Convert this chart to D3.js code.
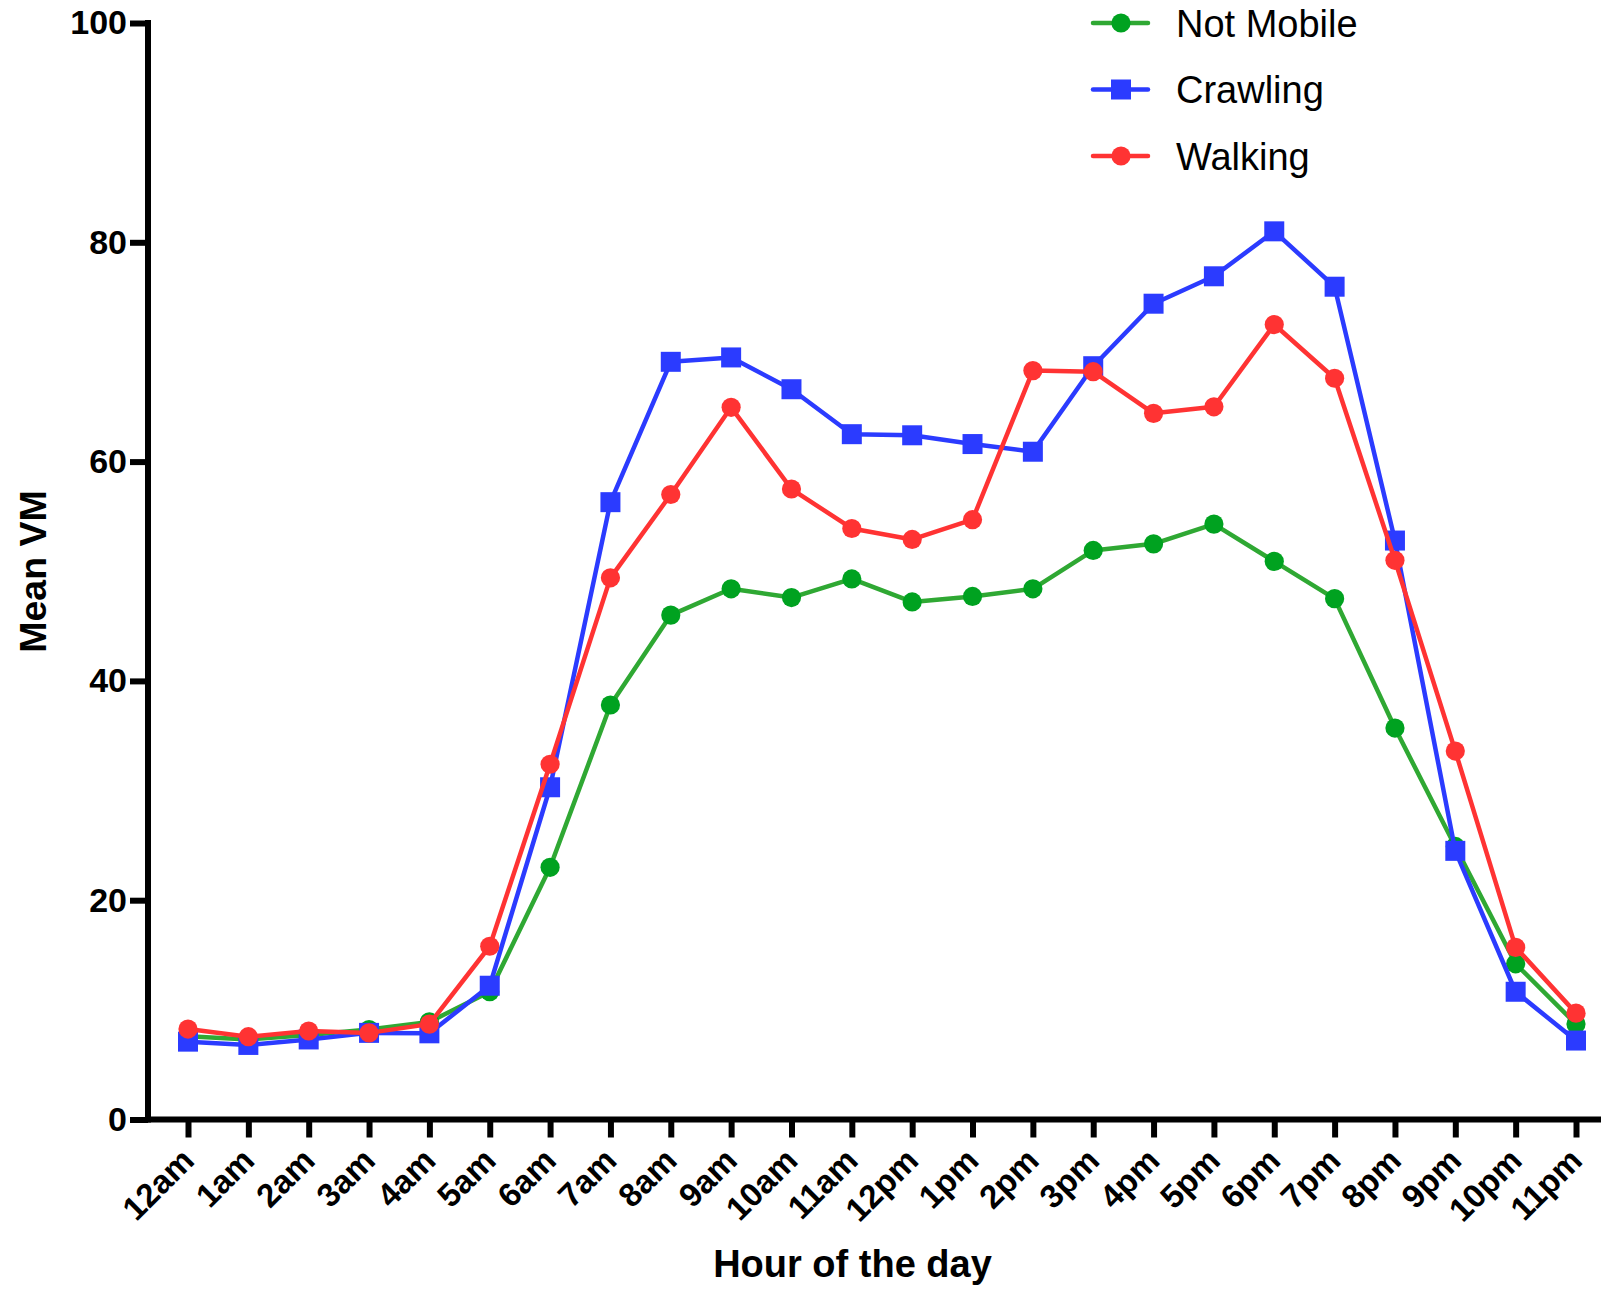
<!DOCTYPE html>
<html>
<head>
<meta charset="utf-8">
<script src="https://cdn.jsdelivr.net/npm/d3@7"></script>
<style>
  html, body { margin: 0; padding: 0; background: #fff; }
  svg { display: block; font-family: "Liberation Sans", Arial, Helvetica, sans-serif; }
</style>
</head>
<body>
<svg id="chart" width="1601" height="1290"></svg>
<script>
const hours = ["12am","1am","2am","3am","4am","5am","6am","7am","8am","9am","10am","11am",
               "12pm","1pm","2pm","3pm","4pm","5pm","6pm","7pm","8pm","9pm","10pm","11pm"];
const notMobile = [7.6, 7.3, 7.7, 8.2, 8.9, 11.65, 23.0, 37.8, 46.0, 48.4, 47.6, 49.3,
                   47.2, 47.7, 48.4, 51.9, 52.5, 54.3, 50.9, 47.5, 35.7, 24.9, 14.2, 8.7];
const crawling  = [7.1, 6.8, 7.3, 7.9, 7.86, 12.2, 30.3, 56.3, 69.1, 69.5, 66.6, 62.5,
                   62.4, 61.6, 60.9, 68.7, 74.4, 76.9, 81.0, 75.95, 52.8, 24.5, 11.65, 7.2];
const walking   = [8.25, 7.55, 8.07, 7.9, 8.7, 15.8, 32.4, 49.4, 57.0, 64.95, 57.5, 53.9,
                   52.9, 54.7, 68.3, 68.2, 64.4, 65.0, 72.5, 67.6, 51.0, 33.6, 15.7, 9.7];
const yTicks = [0, 20, 40, 60, 80, 100];
const seriesNames = ["Not Mobile", "Crawling", "Walking"];
const seriesValues = [notMobile, crawling, walking];
const seriesLine = ["#2fa833", "#2b3bff", "#ff3333"];
const seriesFill = ["#00a220", "#2b3bff", "#ff3333"];
const seriesShape = ["circle", "square", "circle"];

const svg = d3.select("#chart");
const axisX = 148;
const x = d3.scalePoint().domain(hours).range([188, 1576]).padding(0);
const y = d3.scaleLinear().domain([0, 100]).range([1119.5, 23]);

const symCircle = d3.symbol().type(d3.symbolCircle).size(Math.PI * 9.6 * 9.6);
const symSquare = d3.symbol().type(d3.symbolSquare).size(20 * 20);

// Axes
const yAxis = d3.axisLeft(y).tickValues(yTicks).tickSize(18).tickSizeOuter(0).tickPadding(3);
const gy = svg.append("g").attr("transform", `translate(${axisX},0)`).call(yAxis);
gy.select(".domain").remove();
gy.selectAll(".tick line").attr("stroke", "#000").attr("stroke-width", 6);
gy.selectAll(".tick text").attr("fill", "#000").attr("font-size", 34).attr("font-weight", "bold")
  .attr("font-family", "'Liberation Sans', Arial, sans-serif");

const xAxis = d3.axisBottom(x).tickSize(18).tickSizeOuter(0);
const gx = svg.append("g").attr("transform", `translate(0,${y(0)})`).call(xAxis);
gx.select(".domain").remove();
gx.selectAll(".tick line").attr("stroke", "#000").attr("stroke-width", 6);
gx.selectAll(".tick text")
  .attr("fill", "#000").attr("font-size", 33).attr("font-weight", "bold")
  .attr("font-family", "'Liberation Sans', Arial, sans-serif")
  .attr("text-anchor", "end")
  .attr("dy", null).attr("y", null)
  .attr("transform", "translate(7.5,43) rotate(-45)");

// axis lines
svg.append("line").attr("x1", axisX).attr("x2", axisX).attr("y1", y(100) - 3).attr("y2", y(0) + 3)
  .attr("stroke", "#000").attr("stroke-width", 6);
svg.append("line").attr("x1", axisX - 3).attr("x2", 1601).attr("y1", y(0)).attr("y2", y(0))
  .attr("stroke", "#000").attr("stroke-width", 6);

// Series
const line = d3.line().x((d, i) => x(hours[i])).y(d => y(d));
seriesValues.forEach((vals, s) => {
  const g = svg.append("g");
  g.append("path").datum(vals).attr("d", line).attr("fill", "none")
    .attr("stroke", seriesLine[s]).attr("stroke-width", 4.5).attr("stroke-linejoin", "round");
  g.selectAll("path.m").data(vals).enter().append("path").attr("class", "m")
    .attr("d", seriesShape[s] === "circle" ? symCircle : symSquare)
    .attr("transform", (d, i) => `translate(${x(hours[i])},${y(d)})`)
    .attr("fill", seriesFill[s]);
});

// Titles
svg.append("text").attr("transform", "translate(46,571.5) rotate(-90)")
  .attr("text-anchor", "middle").attr("font-size", 37.5).attr("font-weight", "bold").text("Mean VM");
svg.append("text").attr("x", 852.5).attr("y", 1277)
  .attr("text-anchor", "middle").attr("font-size", 38).attr("font-weight", "bold").text("Hour of the day");

// Legend
const legendY = d3.scalePoint().domain(seriesNames).range([23, 156]);
const lg = svg.append("g");
seriesNames.forEach((name, s) => {
  const cy = legendY(name);
  lg.append("line").attr("x1", 1093).attr("x2", 1148).attr("y1", cy).attr("y2", cy)
    .attr("stroke", seriesLine[s]).attr("stroke-width", 4.5).attr("stroke-linecap", "round");
  lg.append("path").attr("d", seriesShape[s] === "circle" ? symCircle : symSquare)
    .attr("transform", `translate(1121,${cy})`).attr("fill", seriesFill[s]);
  lg.append("text").attr("x", 1176).attr("y", cy + 13.5).attr("font-size", 38).attr("fill", "#000")
    .text(name);
});
</script>
</body>
</html>
